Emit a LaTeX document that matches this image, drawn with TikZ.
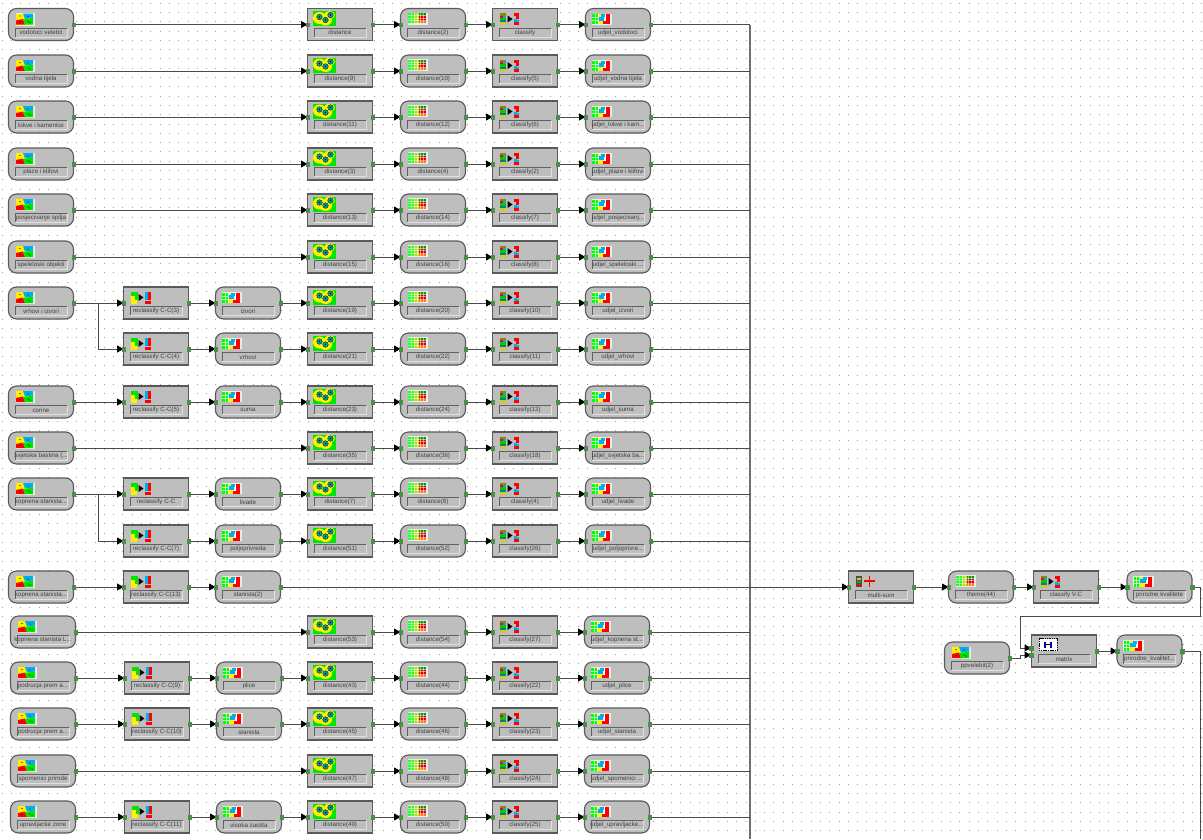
\documentclass[tikz,border=0pt]{standalone}
\usepackage{fontspec}
\setmainfont{Liberation Sans}
\usetikzlibrary{arrows.meta,calc}
\definecolor{boxfill}{HTML}{BEBEBE}
\definecolor{boxline}{HTML}{5A5A5A}
\definecolor{wire}{HTML}{4A4A4A}
\definecolor{bus}{HTML}{6E6E6E}
\definecolor{portg}{HTML}{00C000}
\definecolor{tealc}{HTML}{00A0A0}
\tikzset{
  x=1pt,y=-1pt,
  mapbox/.style={draw=boxline,fill=boxfill,line width=1.1pt,rounded corners=8pt,minimum width=65pt,minimum height=32pt,inner sep=0pt,outer sep=0pt},
  funbox/.style={draw=boxline,fill=boxfill,line width=1.1pt,minimum width=65pt,minimum height=32pt,inner sep=0pt,outer sep=0pt},
  blocklabel/.style={inner sep=0pt,outer sep=0pt,text=black!75,font=\fontsize{6.2}{7}\selectfont,anchor=center},
  conn/.style={draw=wire,line width=1pt,-{Triangle[length=6.5pt,width=7pt,black]}},
  busline/.style={draw=bus,line width=1.1pt},
  outwire/.style={draw=wire,line width=1pt},
  portmark/.style={fill=portg,draw=black!55,line width=.25pt},
}
\newcommand\PortAt[1]{\filldraw[portmark] ([shift={(-1.8pt,-1.8pt)}]#1) rectangle ([shift={(1.8pt,1.8pt)}]#1);}
\newcommand\Field[4]{%
  \draw[black!62,line width=.9pt] (#2+7,#3+12.5) -- (#2+7,#3+3.5) -- (#2+59,#3+3.5);
  \draw[white!88!black,line width=.9pt] (#2+7,#3+12.8) -- (#2+59,#3+12.8) -- (#2+59,#3+4);
  \node[blocklabel] (#1-l) at (#2+33,#3+8) {#4};
}
\newcommand\IcoMap[2]{\begin{scope}[shift={(#1+8,#2-11)}]
  \fill[white!85!gray] (-.5,-.5) rectangle (19,12);
  \fill[yellow] (0,0) rectangle (17,11);
  \fill[cyan] (7,0) -- (17,0) -- (17,4.5) -- (9,5.5) -- cycle;
  \fill[red] (0,7) -- (7,5.5) -- (9,11) -- (0,11) -- cycle;
  \fill[green!90!black] (7,6) -- (17,4.5) -- (17,11) -- (9,11) -- cycle;
  \foreach \a/\b in {4/2.5,12/3,4/8.5,12/8,14/9}{\fill[black] (\a,\b) circle[radius=.6];}
\end{scope}}
\newcommand\IcoDist[2]{\begin{scope}[shift={(#1+5.5,#2-13.5)}]
  \fill[green!90!black] (0,0) rectangle (23,15);
  \fill[yellow] (7,7) ellipse[x radius=6.5,y radius=6];
  \fill[yellow] (13,9) ellipse[x radius=6.5,y radius=5.5];
  \fill[yellow] (17,4) ellipse[x radius=5.5,y radius=4];
  \foreach \a/\b in {7/6,13/9,18/4}{\filldraw[fill=tealc,draw=black!70!tealc,line width=.4pt] (\a,\b) circle[radius=2.8];\fill[black] (\a,\b) circle[radius=.8];}
\end{scope}}
\newcommand\IcoGrid[2]{\begin{scope}[shift={(#1+8,#2-11.5)}]
  \fill[white!85!gray] (-.5,-.5) rectangle (20,11.5);
  \fill[green!85!white] (0,0) rectangle (7,10);
  \fill[yellow!70!green] (6,0) rectangle (12,10);
  \fill[red!85!black] (11,3) rectangle (18,8);
  \fill[green!60!black] (11,0) rectangle (18,3);
  \fill[orange] (11,8) rectangle (18,10);
  \foreach \a in {3,6,9,12,15}{\draw[white,opacity=.5,line width=.4pt] (\a,0) -- (\a,10);}
  \foreach \b in {2.5,5,7.5}{\draw[white,opacity=.5,line width=.4pt] (0,\b) -- (18,\b);}
\end{scope}}
\newcommand\IcoClass[2]{\begin{scope}[shift={(#1+7.5,#2-11.5)}]
  \fill[olive] (0,0) rectangle (6,2.5);
  \fill[red] (0,2.5) rectangle (3,4.5);
  \fill[cyan] (3,2.5) rectangle (6,4.5);
  \fill[green!80!black] (0,4.5) rectangle (6,7);
  \fill[teal] (0,7) rectangle (6,9);
  \fill[yellow!80!black] (0,9) rectangle (6,12);
  \fill[black] (8,2.5) -- (13,6) -- (8,9.5) -- cycle;
  \fill[red] (14,0) rectangle (19,3);
  \fill[red] (16,3) rectangle (19,6);
  \fill[cyan] (14,6) rectangle (17,9);
  \fill[red] (14,9) rectangle (19,12);
  \fill[cyan] (17,7) rectangle (19,9);
\end{scope}}
\newcommand\IcoRecl[2]{\begin{scope}[shift={(#1+7.5,#2-11.5)}]
  \fill[green!90!black] (0,0) rectangle (7,4);
  \fill[yellow] (0,4.5) rectangle (4,8);
  \fill[green!90!black] (4,4.5) rectangle (7,8);
  \fill[yellow] (0,8.5) rectangle (6,12);
  \fill[black] (8,2.5) -- (13,6) -- (8,9.5) -- cycle;
  \fill[cyan] (14,0) rectangle (17,4);
  \fill[red] (17,0) rectangle (20,4);
  \fill[cyan] (14,4.5) rectangle (17,8);
  \fill[red] (17,4.5) rectangle (20,8);
  \fill[red] (14,9) rectangle (20,12);
\end{scope}}
\newcommand\IcoUd[2]{\begin{scope}[shift={(#1+7,#2-10.5)}]
  \fill[white!85!gray] (-.5,-.5) rectangle (20,10.5);
  \fill[green] (0,0) rectangle (6,10);
  \fill[yellow] (6,0) rectangle (11,10);
  \fill[cyan] (6,2.5) rectangle (12,6.5);
  \fill[cyan] (9,0) rectangle (13,3);
  \fill[white] (13,0) rectangle (14,7);
  \fill[red] (11,7) rectangle (18,10);
  \fill[red] (14,0) rectangle (18,7);
  \foreach \a in {3,6}{\draw[white,opacity=.7,line width=.4pt] (\a,0) -- (\a,10);}
  \foreach \b in {3.3,6.6}{\draw[white,opacity=.7,line width=.4pt] (0,\b) -- (6,\b);}
\end{scope}}
\newcommand\IcoSum[2]{\begin{scope}[shift={(#1+8,#2-11.5)}]
  \fill[black!70] (0,0) rectangle (6,11);
  \fill[yellow!80!black] (1,2) rectangle (5,4);
  \fill[green!70!black] (1,5) rectangle (5,7);
  \fill[red] (1,8) rectangle (5,10);
  \draw[red,line width=1.1pt] (8,5.5) -- (19,5.5) (13.5,0) -- (13.5,11);
\end{scope}}
\newcommand\IcoMat[2]{\begin{scope}[shift={(#1+8,#2-12.5)}]
  \filldraw[fill=white,draw=black,line width=1pt,dash pattern=on 1.5pt off .8pt] (0,0) rectangle (18,12);
  \draw[blue!70!black,line width=1.2pt] (6,3) -- (6,9) (12,3) -- (12,9);
  \draw[black,line width=1pt] (6,6) -- (12,6);
\end{scope}}
\newcommand\Block[6]{%
  \node[#1] (#2) at (#3+33,#4) {};
  #5{#3}{#4}
  \Field{#2}{#3}{#4}{#6}
}
\newcommand\Wire[2]{\draw[conn] (#1.east) -- (#2.west); \PortAt{#1.east}\PortAt{#2.west}}
\newcommand\Row[9]{%
  \ifnum#1>13 \def\xa{2}\def\xb{1}\def\xc{1}\def\xu{-1}\else\def\xa{0}\def\xb{0}\def\xc{0}\def\xu{0}\fi
  \if\relax\detokenize{#3}\relax\else
    \Block{mapbox}{s#1}{8+\xa}{#2}{\IcoMap}{#3}
  \fi
  \if\relax\detokenize{#4}\relax\else
    \Block{funbox}{r#1}{123+\xb}{#2}{\IcoRecl}{#4}
    \Block{mapbox}{t#1}{215+\xc}{#2}{\IcoUd}{#5}
  \fi
  \Block{funbox}{da#1}{307}{#2}{\IcoDist}{#6}
  \Block{mapbox}{db#1}{400}{#2}{\IcoGrid}{#7}
  \Block{funbox}{c#1}{492}{#2}{\IcoClass}{#8}
  \Block{mapbox}{u#1}{585+\xu}{#2}{\IcoUd}{#9}
  \Wire{da#1}{db#1}\Wire{db#1}{c#1}\Wire{c#1}{u#1}
  \if\relax\detokenize{#4}\relax
    \if\relax\detokenize{#3}\relax\else\Wire{s#1}{da#1}\fi
  \else
    \Wire{r#1}{t#1}\Wire{t#1}{da#1}
    \if\relax\detokenize{#3}\relax\else\Wire{s#1}{r#1}\fi
  \fi
  \draw[outwire] (u#1.east) -- (u#1.east -| bustop);
  \PortAt{u#1.east}
}
\begin{document}
\begin{tikzpicture}
\useasboundingbox (0,0) rectangle (1203,839);
\fill[white] (0,0) rectangle (1203,839);
\foreach \k in {0,...,90}{
  \draw[black!38,line width=.8pt,dash pattern=on .8pt off 8.5pt] (1.5,{3+9.3*\k}) -- (1203,{3+9.3*\k});
}
\coordinate (bustop) at (750,24.5);
\coordinate (busend) at (750,839);
\draw[busline] (bustop) -- (busend);
\Row{1}{24.5}{vodotoci velebit}{}{}{distance}{distance(2)}{classify}{udjel\_vodotoci}
\Row{2}{71}{vodna tijela}{}{}{distance(9)}{distance(10)}{classify(5)}{udjel\_vodna tijela}
\Row{3}{117}{lokve i kamenice}{}{}{distance(11)}{distance(12)}{classify(6)}{udjel\_lokve i kam...}
\Row{4}{164}{plaze i klifovi}{}{}{distance(3)}{distance(4)}{classify(2)}{udjel\_plaze i klifovi}
\Row{5}{210}{posjecivanje spilja}{}{}{distance(13)}{distance(14)}{classify(7)}{udjel\_posjecivanj...}
\Row{6}{257}{speleloski objekti}{}{}{distance(15)}{distance(16)}{classify(8)}{udjel\_speleloski ...}
\Row{7}{303}{vrhovi i izvori}{reclassify C-C(3)}{izvori}{distance(19)}{distance(20)}{classify(10)}{udjel\_izvori}
\Row{8}{349}{}{reclassify C-C(4)}{vrhovi}{distance(21)}{distance(22)}{classify(11)}{udjel\_vrhovi}
\Row{9}{402}{corine}{reclassify C-C(5)}{suma}{distance(23)}{distance(24)}{classify(12)}{udjel\_suma}
\Row{10}{448}{svjetska bastina (...}{}{}{distance(35)}{distance(36)}{classify(18)}{udjel\_svjetska ba...}
\Row{11}{494}{kopnena stanista...}{reclassify C-C}{livade}{distance(7)}{distance(8)}{classify(4)}{udjel\_livade}
\Row{12}{541}{}{reclassify C-C(7)}{poljoprivreda}{distance(51)}{distance(52)}{classify(26)}{udjel\_poljoprivre...}
\Row{14}{632}{kopnena stanista L...}{}{}{distance(53)}{distance(54)}{classify(27)}{udjel\_kopnena st...}
\Row{15}{678}{podrucja prem a...}{reclassify C-C(9)}{plice}{distance(43)}{distance(44)}{classify(22)}{udjel\_plice}
\Row{16}{724}{podrucja prem a...}{reclassify C-C(10)}{stanista}{distance(45)}{distance(46)}{classify(23)}{udjel\_stanista}
\Row{17}{771}{spomenici prirode}{}{}{distance(47)}{distance(48)}{classify(24)}{udjel\_spomenici ...}
\Row{18}{817}{upravljacke zone}{reclassify C-C(11)}{visoka zastita}{distance(49)}{distance(50)}{classify(25)}{udjel\_upravljacke...}
\coordinate (j7) at (98,303);
\draw[conn] (j7) |- (r8.west); \PortAt{r8.west}
\coordinate (j11) at (98,494);
\draw[conn] (j11) |- (r12.west); \PortAt{r12.west}
\Block{mapbox}{s13}{8}{587}{\IcoMap}{kopnena stanista...}
\Block{funbox}{r13}{123}{587}{\IcoRecl}{reclassify C-C(13)}
\Block{mapbox}{t13}{215}{587}{\IcoUd}{stanista(2)}
\Block{funbox}{ms}{848}{587}{\IcoSum}{multi-sum}
\Block{mapbox}{th}{948}{587}{\IcoGrid}{theme(44)}
\Block{funbox}{cv}{1033}{587}{\IcoClass}{classify V-C}
\Block{mapbox}{pk}{1126.5}{587}{\IcoUd}{prirodne kvalitete}
\Block{mapbox}{pp}{944}{658}{\IcoMap}{ppvelebit(2)}
\Block{funbox}{mx}{1031}{651}{\IcoMat}{matrix}
\Block{mapbox}{pq}{1116.5}{651}{\IcoUd}{prirodne\_kvalitet...}
\Wire{s13}{r13}\Wire{r13}{t13}\Wire{t13}{ms}\Wire{ms}{th}\Wire{th}{cv}\Wire{cv}{pk}\Wire{mx}{pq}
\coordinate (mi1) at (1031,648);
\coordinate (mi2) at (1031,655);
\coordinate (rt) at (1200.5,616.7);
\coordinate (lf) at (1020.7,616.7);
\draw[conn] (pk.east) -| (rt) -- (lf) |- (mi1);
\coordinate (pj) at (1020,658);
\draw[conn] (pp.east) -- (pj) |- (mi2);
\PortAt{pk.east}\PortAt{pp.east}\PortAt{mi1}\PortAt{mi2}
\coordinate (rb) at (1200.5,839);
\draw[outwire] (pq.east) -| (rb);
\PortAt{pq.east}
\end{tikzpicture}
\end{document}
